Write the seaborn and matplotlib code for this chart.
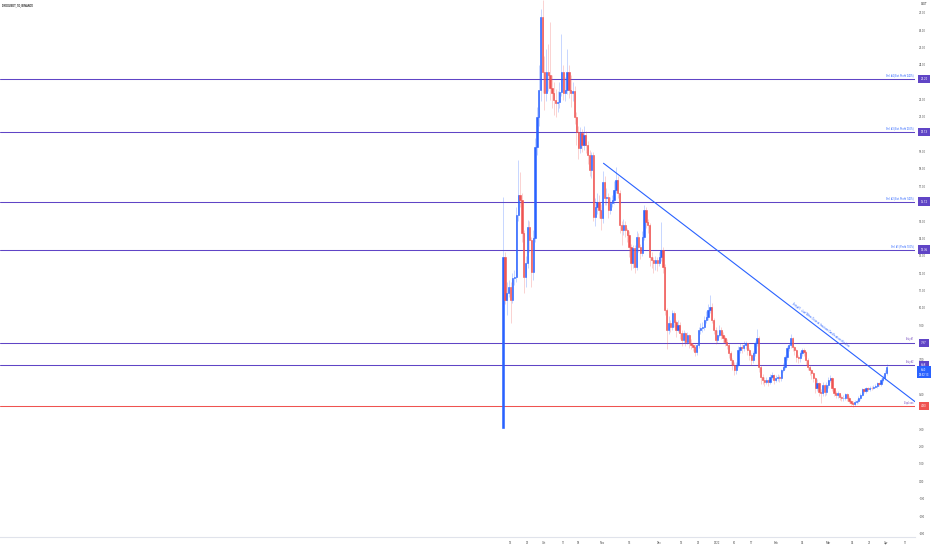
import numpy as np
import pandas as pd
import matplotlib
matplotlib.use("Agg")
import matplotlib.pyplot as plt
import seaborn as sns

# DYDXUSDT daily candles, day 0 = 2021-09-09 (Binance listing)
opens = [
    3.05, 12.95, 10.45, 10.83, 11.22, 10.45, 11.70, 11.75, 15.35, 16.50,
    16.21, 14.29, 11.79, 12.56, 14.68, 13.91, 12.08, 14.00, 19.29, 21.02,
    22.55, 26.78, 23.61, 22.36, 23.61, 23.42, 22.65, 22.36, 21.98, 21.78,
    21.88, 22.46, 23.61, 22.36, 22.55, 23.61, 22.55, 22.36, 22.50, 21.02,
    20.15, 19.19, 20.06, 19.38, 19.95, 19.38, 18.81, 17.94, 18.81, 15.25,
    15.83, 16.12, 15.64, 15.16, 17.27, 16.31, 16.41, 15.64, 16.02, 16.21,
    16.79, 17.37, 16.60, 14.77, 14.48, 14.77, 14.48, 14.20, 13.52, 12.56,
    13.43, 12.37, 14.10, 13.52, 13.14, 14.10, 15.64, 14.96, 14.77, 12.95,
    12.75, 12.56, 12.75, 12.56, 12.95, 13.33, 12.37, 9.87, 8.72, 9.10,
    8.91, 9.68, 9.20, 8.72, 9.00, 8.52, 8.14, 8.52, 8.04, 8.43,
    7.95, 7.85, 7.76, 7.47, 7.85, 8.72, 8.81, 8.91, 9.29, 9.48,
    9.87, 10.06, 9.29, 8.72, 8.14, 8.43, 8.72, 8.43, 8.24, 8.04,
    7.85, 7.37, 6.99, 6.70, 6.41, 6.70, 7.56, 7.76, 7.66, 7.85,
    7.95, 7.56, 7.28, 6.99, 7.37, 7.95, 8.24, 6.60, 6.03, 5.84,
    5.74, 5.84, 5.74, 6.03, 6.10, 5.84, 5.93, 6.03, 5.93, 6.41,
    6.60, 7.18, 7.66, 7.85, 8.24, 7.76, 7.56, 7.18, 7.08, 7.37,
    7.56, 7.47, 6.99, 6.60, 6.41, 6.22, 5.93, 5.35, 5.64, 5.16,
    5.07, 5.55, 5.16, 5.55, 5.84, 5.93, 5.35, 5.07, 4.97, 5.07,
    4.87, 4.78, 4.80, 5.03, 4.78, 4.64, 4.53, 4.45, 4.55, 4.60,
    4.80, 5.00, 5.30, 5.20, 5.35, 5.30, 5.40, 5.35, 5.45, 5.50,
    5.65, 5.60, 5.85, 5.95, 6.25,
]
closes = [
    12.95, 10.45, 10.83, 11.22, 10.45, 11.70, 11.75, 15.35, 16.50, 16.21,
    14.29, 11.79, 12.56, 14.68, 13.91, 12.08, 14.00, 19.29, 21.02, 22.55,
    26.78, 23.61, 22.36, 23.61, 23.42, 22.65, 22.36, 21.98, 21.78, 21.88,
    22.46, 23.61, 22.36, 22.55, 23.61, 22.55, 22.36, 22.50, 21.02, 20.15,
    19.19, 20.06, 19.38, 19.95, 19.38, 18.81, 17.94, 18.81, 15.25, 15.83,
    16.12, 15.64, 15.16, 17.27, 16.31, 16.41, 15.64, 16.02, 16.21, 16.79,
    17.37, 16.60, 14.77, 14.48, 14.77, 14.48, 14.20, 13.52, 12.56, 13.43,
    12.37, 14.10, 13.52, 13.14, 14.10, 15.64, 14.96, 14.77, 12.95, 12.75,
    12.56, 12.75, 12.56, 12.95, 13.33, 12.37, 9.87, 8.72, 9.10, 8.91,
    9.68, 9.20, 8.72, 9.00, 8.52, 8.14, 8.52, 8.04, 8.43, 7.95,
    7.85, 7.76, 7.47, 7.85, 8.72, 8.81, 8.91, 9.29, 9.48, 9.87,
    10.06, 9.29, 8.72, 8.14, 8.43, 8.72, 8.43, 8.24, 8.04, 7.85,
    7.37, 6.99, 6.70, 6.41, 6.70, 7.56, 7.76, 7.66, 7.85, 7.95,
    7.56, 7.28, 6.99, 7.37, 7.95, 8.24, 6.60, 6.03, 5.84, 5.74,
    5.84, 5.74, 6.03, 6.10, 5.84, 5.93, 6.03, 5.93, 6.41, 6.60,
    7.18, 7.66, 7.85, 8.24, 7.76, 7.56, 7.18, 7.08, 7.37, 7.56,
    7.47, 6.99, 6.60, 6.41, 6.22, 5.93, 5.35, 5.64, 5.16, 5.07,
    5.55, 5.16, 5.55, 5.84, 5.93, 5.35, 5.07, 4.97, 5.07, 4.87,
    4.78, 4.80, 5.03, 4.78, 4.64, 4.53, 4.45, 4.55, 4.60, 4.80,
    5.00, 5.30, 5.20, 5.35, 5.30, 5.40, 5.35, 5.45, 5.50, 5.65,
    5.60, 5.85, 5.95, 6.25, 6.60,
]
highs = [
    16.41, 13.20, 11.50, 11.60, 11.50, 12.00, 12.20, 15.80, 18.52, 17.80,
    16.60, 14.50, 13.00, 15.06, 15.00, 14.10, 14.50, 19.80, 21.60, 24.00,
    27.20, 27.74, 24.50, 24.90, 25.20, 26.50, 23.40, 23.00, 22.60, 22.50,
    23.00, 25.80, 24.00, 23.30, 24.90, 24.00, 23.40, 23.00, 22.80, 21.30,
    20.50, 20.40, 20.30, 20.50, 20.20, 19.60, 19.10, 19.00, 19.00, 16.30,
    16.60, 16.50, 16.00, 17.90, 17.60, 16.90, 16.60, 16.40, 16.50, 17.30,
    18.10, 17.60, 16.80, 15.00, 15.10, 15.00, 14.60, 14.40, 13.70, 13.60,
    13.60, 14.40, 14.30, 13.70, 14.40, 15.90, 15.80, 15.10, 14.90, 13.20,
    12.90, 13.00, 12.90, 13.20, 14.96, 13.50, 12.50, 10.00, 9.50, 9.30,
    9.90, 9.80, 9.30, 9.30, 9.20, 8.70, 8.70, 8.60, 8.60, 8.50,
    8.20, 8.00, 7.90, 8.00, 8.90, 9.10, 9.20, 9.50, 9.80, 10.20,
    10.74, 10.30, 9.40, 8.90, 8.70, 9.00, 8.90, 8.60, 8.40, 8.20,
    8.00, 7.50, 7.10, 6.90, 6.90, 7.80, 8.00, 7.90, 8.10, 8.10,
    8.00, 7.70, 7.40, 7.50, 8.10, 8.80, 8.40, 6.70, 6.20, 6.00,
    6.00, 5.90, 6.20, 6.30, 6.20, 6.10, 6.20, 6.10, 6.50, 6.80,
    7.30, 7.80, 8.00, 8.50, 8.30, 7.80, 7.60, 7.30, 7.50, 7.70,
    7.70, 7.50, 7.10, 6.70, 6.50, 6.30, 6.00, 5.90, 5.70, 5.30,
    5.70, 5.60, 5.70, 6.00, 6.10, 6.00, 5.40, 5.20, 5.20, 5.10,
    5.00, 4.95, 5.10, 5.10, 4.90, 4.70, 4.60, 4.70, 4.75, 4.90,
    5.10, 5.40, 5.40, 5.45, 5.45, 5.50, 5.50, 5.55, 5.60, 5.75,
    5.75, 5.95, 6.10, 6.40, 6.75,
]
lows = [
    3.05, 10.20, 9.60, 10.60, 9.10, 10.30, 11.30, 11.50, 15.00, 15.80,
    13.80, 10.83, 11.20, 12.30, 13.20, 11.22, 11.60, 13.80, 18.80, 20.50,
    21.90, 22.40, 21.40, 21.90, 22.50, 22.00, 21.50, 21.10, 21.00, 21.30,
    21.50, 22.20, 22.00, 21.90, 22.30, 22.10, 21.60, 21.90, 20.60, 19.40,
    18.60, 18.90, 19.00, 19.10, 18.90, 18.30, 17.60, 17.50, 15.00, 14.70,
    15.40, 15.20, 14.50, 14.90, 15.90, 15.90, 15.20, 15.40, 15.80, 16.00,
    16.60, 16.30, 14.30, 13.60, 14.20, 14.10, 13.80, 12.90, 12.20, 12.30,
    12.00, 12.20, 13.20, 12.80, 13.00, 13.90, 14.60, 14.30, 12.40, 12.30,
    12.00, 12.20, 12.10, 12.40, 12.70, 12.00, 9.60, 7.60, 8.50, 8.60,
    8.70, 8.90, 8.30, 8.60, 8.20, 7.80, 8.00, 7.80, 7.90, 7.70,
    7.60, 7.50, 7.20, 7.30, 7.70, 8.50, 8.60, 8.70, 9.10, 9.30,
    9.70, 9.10, 8.50, 7.90, 8.00, 8.30, 8.20, 8.00, 7.80, 7.60,
    7.10, 6.70, 6.40, 6.10, 6.20, 6.60, 7.40, 7.40, 7.50, 7.60,
    7.30, 7.00, 6.70, 6.80, 7.20, 7.80, 6.30, 5.60, 5.60, 5.50,
    5.60, 5.50, 5.60, 5.90, 5.60, 5.70, 5.80, 5.70, 5.80, 6.30,
    6.50, 7.00, 7.50, 7.70, 7.50, 7.30, 6.90, 6.80, 6.90, 7.20,
    7.20, 6.70, 6.40, 6.10, 5.90, 5.70, 5.10, 5.20, 4.90, 4.50,
    4.90, 4.90, 5.00, 5.40, 5.70, 5.20, 4.90, 4.80, 4.80, 4.70,
    4.60, 4.60, 4.70, 4.60, 4.50, 4.40, 4.30, 4.35, 4.45, 4.50,
    4.70, 4.90, 5.10, 5.10, 5.20, 5.20, 5.25, 5.30, 5.35, 5.40,
    5.50, 5.50, 5.75, 5.85, 6.10,
]

# horizontal trade levels
level_names = ["Sell #4 (Est. Profit 240%)", "Sell #3 (Est. Profit 200%)",
               "Sell #2 (Est. Profit 140%)", "Sell #1 (Profit 100%)",
               "Entry#1", "Entry#2", "StopLoss"]
level_values = [23.20, 20.13, 16.12, 13.36, 7.97, 6.68, 4.33]

# downtrend line (day index, price)
trend_days = [53.4, 219.1]
trend_prices = [18.33, 4.59]
trend_text = "Entry#1 : Just When Close at least one Candle above this Line"

xtick_days = [4, 13, 22, 32, 40, 53, 67, 83, 95, 104, 114, 123, 132, 145,
              159, 173, 186, 195, 204, 214]
xtick_labels = ["13", "20", "Oct", "11", "18", "Nov", "15", "Dec", "13", "20",
                "2022", "10", "17", "Feb", "14", "Mar", "14", "21", "Apr", "11"]
ytick_values = [27, 26, 25, 24, 22, 21, 19, 18, 17, 15, 14, 13, 12, 11, 10, 9,
                7, 5, 3, 2, 1, 0, -1, -2, -3]

BLUE = "#2962FF"
RED = "#EF5350"
PURPLE = "#6045C6"

df = pd.DataFrame({"open": opens, "high": highs, "low": lows, "close": closes})
df["day"] = np.arange(len(df))
df["up"] = df["close"] >= df["open"]

sns.set_theme(style="white")
plt.rcParams["font.family"] = ["Roboto", "DejaVu Sans"]

fig = plt.figure(figsize=(9.32, 5.5), dpi=100)
ax = fig.add_axes([0, 13 / 550, 915 / 932, 537 / 550])

body_colors = np.where(df["up"], BLUE, RED)
ax.vlines(df["day"], df["low"], df["high"], colors=body_colors, lw=0.6, alpha=0.3, zorder=2)
body_low = df[["open", "close"]].min(axis=1)
body_h = (df["close"] - df["open"]).abs()
ax.bar(df["day"], body_h, bottom=body_low, width=0.65, color=body_colors,
       edgecolor=body_colors, linewidth=0.4, zorder=3)

trans = ax.get_yaxis_transform()
for name, val in zip(level_names, level_values):
    col = RED if name == "StopLoss" else PURPLE
    ax.axhline(val, color=col, lw=0.75, zorder=1)
    txt_col = BLUE if name.startswith("Sell") else "#7E57C2"
    ax.annotate(name, xy=(1.0, val), xycoords=trans, xytext=(-0.8, 1.2),
                textcoords="offset points", ha="right", va="bottom",
                fontsize=1.8, color=txt_col, zorder=5)
    ax.text(1.0098, val, f"{val:.2f}", transform=trans, ha="center", va="center",
            fontsize=2.1, color="white", clip_on=False, zorder=6,
            bbox=dict(boxstyle="square,pad=0.75", fc=col, ec="none"))

# current price label
last = closes[-1]
ax.text(1.0098, last - 0.32, f"{last:.2f}\n08:52:13", transform=trans,
        ha="center", va="center", fontsize=2.0, color="white", linespacing=1.3,
        clip_on=False, zorder=7,
        bbox=dict(boxstyle="square,pad=0.6", fc=BLUE, ec="none"))

sns.lineplot(x=trend_days, y=trend_prices, ax=ax, color=BLUE, lw=0.8, zorder=4)

# text along the trend line
ax.set_xlim(-267.6, 219.1)
ax.set_ylim(-3.21, 27.74)
frac = 0.69
tx = trend_days[0] + frac * (trend_days[1] - trend_days[0])
ty = trend_prices[0] + frac * (trend_prices[1] - trend_prices[0])
p0 = ax.transData.transform((trend_days[0], trend_prices[0]))
p1 = ax.transData.transform((trend_days[1], trend_prices[1]))
angle = np.degrees(np.arctan2(p1[1] - p0[1], p1[0] - p0[0]))
ax.annotate(trend_text, xy=(tx, ty), xytext=(0.9, 1.2), textcoords="offset points",
            rotation=angle, rotation_mode="anchor", ha="center", va="bottom",
            fontsize=1.9, color=BLUE, zorder=5)

ax.set_xticks(xtick_days)
ax.set_xticklabels(xtick_labels)
ax.yaxis.tick_right()
ax.set_yticks(ytick_values)
ax.set_yticklabels([f"{v:.2f}" for v in ytick_values])
ax.tick_params(axis="x", length=0, pad=2.6, labelsize=2.1, colors="#555555")
ax.tick_params(axis="y", length=0, pad=3.0, labelsize=2.1, colors="#555555")
for side in ["top", "left", "right"]:
    ax.spines[side].set_visible(False)
ax.spines["bottom"].set_color("#e0e3eb")
ax.spines["bottom"].set_linewidth(0.8)
ax.set_xlabel("")
ax.set_ylabel("")
ax.grid(False)

fig.text(2 / 932, 1 - 4 / 550, "DYDXUSDT, 1D, BINANCE", fontsize=2.0, color="#333333",
         va="top", ha="left", fontweight="bold")
fig.text(924 / 932, 1 - 2 / 550, "USDT", fontsize=2.0, color="#333333", va="top", ha="center")

fig.savefig("out.png", dpi=100)
